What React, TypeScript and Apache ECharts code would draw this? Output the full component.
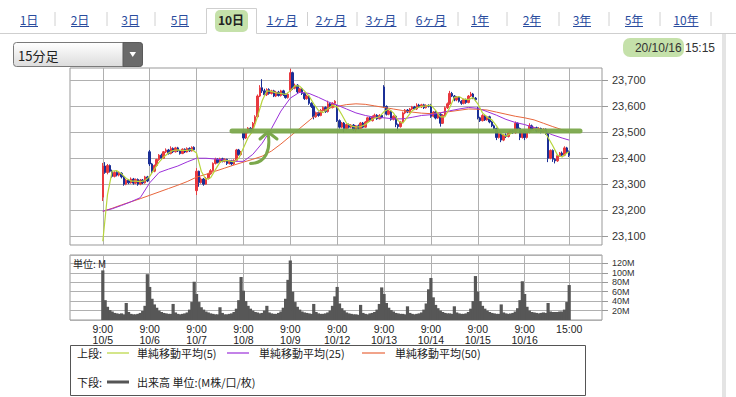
import React, { useEffect, useRef } from 'react';
import * as echarts from 'echarts';

// ---------- data ----------
const dayLabels = ['10/5', '10/6', '10/7', '10/8', '10/9', '10/12', '10/13', '10/14', '10/15', '10/16'];
const endLabel = '15:00';
const yTickValues = [23100, 23200, 23300, 23400, 23500, 23600, 23700];
const volTickValues = [20, 40, 60, 80, 100, 120];

// 15-minute candles per day: [open, close, low, high]
const c10_5 = [
  [23250, 23370, 23235, 23382], [23370, 23345, 23340, 23385], [23345, 23372, 23338, 23378], [23372, 23350, 23345, 23376],
  [23350, 23330, 23325, 23356], [23330, 23345, 23326, 23350], [23345, 23335, 23330, 23350], [23335, 23342, 23330, 23348],
  [23342, 23328, 23322, 23346], [23328, 23300, 23294, 23332], [23300, 23315, 23296, 23320], [23315, 23305, 23300, 23320],
  [23305, 23320, 23302, 23326], [23320, 23304, 23298, 23324], [23304, 23318, 23300, 23322], [23318, 23300, 23294, 23322],
  [23300, 23316, 23296, 23320], [23316, 23305, 23300, 23320], [23305, 23328, 23302, 23332], [23328, 23312, 23308, 23332],
];
const c10_6 = [
  [23425, 23378, 23370, 23432], [23378, 23350, 23340, 23382], [23350, 23372, 23346, 23376], [23372, 23395, 23368, 23398],
  [23395, 23412, 23390, 23416], [23412, 23400, 23396, 23418], [23400, 23425, 23398, 23428], [23425, 23432, 23420, 23438],
  [23432, 23418, 23414, 23436], [23418, 23438, 23415, 23446], [23438, 23425, 23420, 23442], [23425, 23440, 23422, 23444],
  [23440, 23428, 23424, 23444], [23428, 23418, 23414, 23432], [23418, 23435, 23416, 23438], [23435, 23424, 23420, 23438],
  [23424, 23438, 23422, 23442], [23438, 23428, 23424, 23442], [23428, 23442, 23426, 23446], [23442, 23433, 23428, 23446],
];
const c10_7 = [
  [23275, 23350, 23258, 23362], [23350, 23306, 23290, 23352], [23306, 23320, 23302, 23326], [23320, 23300, 23294, 23324],
  [23300, 23322, 23298, 23328], [23322, 23340, 23318, 23344], [23340, 23352, 23336, 23358], [23352, 23380, 23348, 23384],
  [23380, 23396, 23376, 23402], [23396, 23384, 23380, 23400], [23384, 23398, 23380, 23402], [23398, 23388, 23384, 23402],
  [23388, 23396, 23384, 23400], [23396, 23380, 23374, 23398], [23380, 23390, 23376, 23394], [23390, 23378, 23372, 23394],
  [23378, 23392, 23374, 23396], [23392, 23432, 23388, 23436], [23432, 23414, 23410, 23436], [23414, 23423, 23410, 23428],
];
const c10_8 = [
  [23500, 23478, 23470, 23506], [23478, 23500, 23474, 23504], [23500, 23516, 23496, 23520], [23516, 23504, 23500, 23520],
  [23504, 23535, 23500, 23540], [23535, 23560, 23530, 23566], [23560, 23640, 23556, 23646], [23640, 23672, 23636, 23682],
  [23672, 23660, 23652, 23705], [23660, 23645, 23640, 23668], [23645, 23665, 23640, 23670], [23665, 23650, 23645, 23670],
  [23650, 23660, 23646, 23664], [23660, 23640, 23636, 23664], [23640, 23655, 23636, 23660], [23655, 23642, 23638, 23660],
  [23642, 23660, 23638, 23664], [23660, 23645, 23640, 23664], [23645, 23634, 23630, 23650], [23634, 23647, 23630, 23652],
];
const c10_9 = [
  [23662, 23730, 23655, 23745], [23730, 23670, 23664, 23734], [23670, 23682, 23666, 23688], [23682, 23656, 23650, 23686],
  [23656, 23668, 23652, 23672], [23668, 23650, 23644, 23672], [23650, 23630, 23625, 23654], [23630, 23640, 23626, 23645],
  [23640, 23612, 23606, 23644], [23612, 23600, 23594, 23616], [23600, 23560, 23550, 23604], [23560, 23576, 23556, 23580],
  [23576, 23565, 23560, 23580], [23565, 23585, 23562, 23590], [23585, 23596, 23580, 23600], [23596, 23580, 23575, 23600],
  [23580, 23610, 23576, 23622], [23610, 23596, 23590, 23614], [23596, 23612, 23592, 23616], [23612, 23620, 23606, 23624],
];
const c10_12 = [
  [23600, 23545, 23540, 23606], [23545, 23520, 23514, 23550], [23520, 23536, 23516, 23540], [23536, 23514, 23500, 23540],
  [23514, 23530, 23510, 23534], [23530, 23520, 23515, 23534], [23520, 23528, 23516, 23532], [23528, 23510, 23505, 23532],
  [23510, 23525, 23500, 23528], [23525, 23515, 23510, 23530], [23515, 23536, 23512, 23540], [23536, 23520, 23516, 23540],
  [23520, 23540, 23518, 23544], [23540, 23556, 23536, 23560], [23556, 23545, 23540, 23560], [23545, 23560, 23542, 23565],
  [23560, 23566, 23556, 23572], [23566, 23552, 23548, 23570], [23552, 23565, 23550, 23570], [23565, 23558, 23554, 23568],
];
const c10_13 = [
  [23675, 23600, 23595, 23682], [23600, 23570, 23565, 23604], [23570, 23582, 23566, 23586], [23582, 23550, 23545, 23586],
  [23550, 23562, 23546, 23566], [23562, 23530, 23520, 23566], [23530, 23522, 23505, 23534], [23522, 23540, 23518, 23544],
  [23540, 23575, 23536, 23580], [23575, 23586, 23570, 23590], [23586, 23578, 23574, 23590], [23578, 23590, 23574, 23594],
  [23590, 23598, 23586, 23602], [23598, 23590, 23586, 23602], [23590, 23605, 23586, 23612], [23605, 23598, 23594, 23610],
  [23598, 23606, 23594, 23610], [23606, 23595, 23590, 23610], [23595, 23604, 23592, 23608], [23604, 23601, 23596, 23608],
];
const c10_14 = [
  [23602, 23562, 23556, 23610], [23562, 23578, 23558, 23582], [23578, 23555, 23550, 23582], [23555, 23570, 23552, 23574],
  [23570, 23535, 23522, 23574], [23535, 23566, 23532, 23570], [23566, 23595, 23562, 23600], [23595, 23610, 23590, 23615],
  [23610, 23650, 23606, 23660], [23650, 23640, 23636, 23656], [23640, 23625, 23620, 23644], [23625, 23636, 23620, 23640],
  [23636, 23620, 23615, 23640], [23620, 23612, 23606, 23624], [23612, 23626, 23608, 23630], [23626, 23615, 23610, 23630],
  [23615, 23640, 23612, 23644], [23640, 23648, 23636, 23656], [23648, 23632, 23628, 23652], [23632, 23626, 23620, 23636],
];
const c10_15 = [
  [23590, 23556, 23550, 23598], [23556, 23545, 23540, 23560], [23545, 23565, 23542, 23570], [23565, 23548, 23544, 23568],
  [23548, 23560, 23545, 23564], [23560, 23540, 23535, 23564], [23540, 23525, 23520, 23544], [23525, 23515, 23510, 23530],
  [23515, 23480, 23470, 23518], [23480, 23495, 23476, 23500], [23495, 23470, 23462, 23498], [23470, 23490, 23466, 23494],
  [23490, 23484, 23478, 23496], [23484, 23500, 23480, 23504], [23500, 23506, 23496, 23510], [23506, 23498, 23494, 23510],
  [23498, 23535, 23495, 23542], [23535, 23515, 23510, 23538], [23515, 23480, 23470, 23518], [23480, 23507, 23476, 23510],
];
const c10_16 = [
  [23505, 23480, 23470, 23510], [23480, 23500, 23476, 23504], [23500, 23525, 23496, 23535], [23525, 23510, 23505, 23530],
  [23510, 23518, 23506, 23522], [23518, 23505, 23500, 23522], [23505, 23515, 23502, 23520], [23515, 23500, 23496, 23518],
  [23500, 23512, 23497, 23516], [23512, 23495, 23490, 23515], [23495, 23400, 23385, 23498], [23400, 23430, 23396, 23434],
  [23430, 23396, 23386, 23434], [23396, 23390, 23380, 23400], [23390, 23410, 23386, 23414], [23410, 23420, 23406, 23424],
  [23420, 23412, 23408, 23426], [23412, 23440, 23408, 23446], [23440, 23425, 23420, 23444], [23425, 23411, 23405, 23430],
];

// volume (M) per 15-minute bar
const v10_5 = [105, 42, 28, 21, 18, 15, 14, 13, 14, 12, 36, 17, 13, 12, 12, 13, 15, 19, 30, 97];
const v10_6 = [70, 45, 33, 26, 20, 17, 15, 14, 13, 13, 34, 16, 13, 12, 13, 14, 16, 22, 38, 81];
const v10_7 = [55, 38, 27, 22, 18, 16, 14, 13, 12, 12, 27, 15, 12, 12, 13, 14, 17, 24, 42, 91];
const v10_8 = [62, 40, 30, 24, 20, 17, 16, 14, 15, 20, 30, 16, 14, 13, 13, 15, 18, 26, 45, 85];
const v10_9 = [126, 60, 38, 28, 22, 18, 16, 15, 14, 13, 34, 17, 14, 13, 13, 14, 16, 20, 30, 50];
const v10_12 = [70, 35, 25, 20, 16, 14, 13, 12, 12, 11, 32, 15, 13, 12, 14, 15, 17, 22, 34, 69];
const v10_13 = [55, 36, 26, 21, 18, 15, 14, 13, 13, 12, 29, 15, 13, 12, 13, 14, 16, 22, 35, 65];
const v10_14 = [89, 48, 32, 25, 20, 17, 15, 14, 14, 13, 29, 16, 14, 13, 13, 14, 17, 24, 40, 93];
const v10_15 = [60, 40, 30, 24, 20, 17, 15, 14, 13, 13, 33, 16, 14, 13, 14, 15, 18, 25, 42, 82];
const v10_16 = [55, 28, 20, 17, 16, 15, 14, 15, 16, 15, 36, 18, 17, 17, 17, 18, 18, 22, 38, 74];

// moving averages
// MA5 at bars 0,2,4,...,18 of each day
const ma5_10_5 = [23080, 23260, 23350, 23352, 23340, 23322, 23312, 23312, 23310, 23314];
const ma5_10_6 = [23330, 23358, 23385, 23405, 23420, 23430, 23432, 23430, 23430, 23434];
const ma5_10_7 = [23420, 23350, 23318, 23325, 23355, 23385, 23392, 23390, 23386, 23400];
const ma5_10_8 = [23440, 23480, 23505, 23560, 23622, 23660, 23658, 23652, 23650, 23646];
const ma5_10_9 = [23660, 23680, 23678, 23660, 23640, 23610, 23585, 23576, 23590, 23605];
const ma5_10_12 = [23598, 23568, 23535, 23525, 23520, 23522, 23530, 23545, 23555, 23560];
const ma5_10_13 = [23580, 23590, 23575, 23545, 23535, 23560, 23583, 23595, 23600, 23602];
const ma5_10_14 = [23605, 23585, 23560, 23560, 23595, 23635, 23638, 23628, 23626, 23634];
const ma5_10_15 = [23610, 23575, 23558, 23548, 23525, 23495, 23485, 23495, 23505, 23510];
const ma5_10_16 = [23500, 23500, 23512, 23512, 23508, 23480, 23448, 23412, 23405, 23420];
const ma5Last = 23425;
// MA25 at bars 0,4,8,12,16 of each day
const ma25_10_5 = [23196, 23205, 23218, 23232, 23248];
const ma25_10_6 = [23305, 23345, 23358, 23370, 23386];
const ma25_10_7 = [23400, 23400, 23397, 23393, 23388];
const ma25_10_8 = [23388, 23415, 23458, 23515, 23582];
const ma25_10_9 = [23632, 23655, 23650, 23635, 23618];
const ma25_10_12 = [23605, 23590, 23575, 23565, 23558];
const ma25_10_13 = [23556, 23552, 23552, 23558, 23565];
const ma25_10_14 = [23568, 23575, 23583, 23590, 23596];
const ma25_10_15 = [23593, 23580, 23566, 23550, 23538];
const ma25_10_16 = [23530, 23518, 23505, 23490, 23478];
const ma25Last = 23470;
// MA50 at bars 0,4,8,12,16 of each day
const ma50_10_5 = [23195, 23207, 23220, 23232, 23244];
const ma50_10_6 = [23257, 23270, 23283, 23296, 23310];
const ma50_10_7 = [23327, 23338, 23350, 23362, 23374];
const ma50_10_8 = [23385, 23396, 23408, 23428, 23455];
const ma50_10_9 = [23485, 23515, 23545, 23575, 23592];
const ma50_10_12 = [23600, 23607, 23610, 23608, 23602];
const ma50_10_13 = [23596, 23590, 23584, 23578, 23574];
const ma50_10_14 = [23572, 23576, 23580, 23585, 23590];
const ma50_10_15 = [23589, 23586, 23578, 23570, 23562];
const ma50_10_16 = [23556, 23548, 23535, 23522, 23510];
const ma50Last = 23502;

const candleDays = [c10_5, c10_6, c10_7, c10_8, c10_9, c10_12, c10_13, c10_14, c10_15, c10_16];
const volDays = [v10_5, v10_6, v10_7, v10_8, v10_9, v10_12, v10_13, v10_14, v10_15, v10_16];
const ma5Days = [ma5_10_5, ma5_10_6, ma5_10_7, ma5_10_8, ma5_10_9, ma5_10_12, ma5_10_13, ma5_10_14, ma5_10_15, ma5_10_16];
const ma25Days = [ma25_10_5, ma25_10_6, ma25_10_7, ma25_10_8, ma25_10_9, ma25_10_12, ma25_10_13, ma25_10_14, ma25_10_15, ma25_10_16];
const ma50Days = [ma50_10_5, ma50_10_6, ma50_10_7, ma50_10_8, ma50_10_9, ma50_10_12, ma50_10_13, ma50_10_14, ma50_10_15, ma50_10_16];

// ---------- layout of the slot axis ----------
const LEAD = 14;
const BARS = 20;
const TOTAL = 228;

const cats: string[] = [];
for (let i = 0; i < TOTAL; i++) cats.push('s' + i);
const labelMap: Record<string, string> = {};
dayLabels.forEach((d, k) => { labelMap['s' + (LEAD + k * BARS)] = '9:00\n' + d; });
const lastIdx = LEAD + dayLabels.length * BARS - 1;
labelMap['s' + lastIdx] = endLabel;
const gridIdx = new Set<number>();
Object.keys(labelMap).forEach((k) => gridIdx.add(parseInt(k.slice(1), 10)));

const candleData: any[] = [];
const volData: any[] = [];
const ma5Data: any[] = [];
const ma25Data: any[] = [];
const ma50Data: any[] = [];
for (let i = 0; i < TOTAL; i++) {
  candleData.push(['-', '-', '-', '-']);
  volData.push('-');
  ma5Data.push(null);
  ma25Data.push(null);
  ma50Data.push(null);
}
candleDays.forEach((day, d) => day.forEach((c, b) => { candleData[LEAD + d * BARS + b] = c; }));
volDays.forEach((day, d) => day.forEach((v, b) => { volData[LEAD + d * BARS + b] = v; }));
ma5Days.forEach((day, d) => day.forEach((v, k) => { ma5Data[LEAD + d * BARS + k * 2] = v; }));
ma25Days.forEach((day, d) => day.forEach((v, k) => { ma25Data[LEAD + d * BARS + k * 4] = v; }));
ma50Days.forEach((day, d) => day.forEach((v, k) => { ma50Data[LEAD + d * BARS + k * 4] = v; }));
ma5Data[lastIdx] = ma5Last;
ma25Data[lastIdx] = ma25Last;
ma50Data[lastIdx] = ma50Last;

// ---------- header / annotations ----------
const tabs = ['1日', '2日', '3日', '5日', '10日', '1ヶ月', '2ヶ月', '3ヶ月', '6ヶ月', '1年', '2年', '3年', '5年', '10年'];
const selectedTab = '10日';
const legendItems = ['単純移動平均(5)', '単純移動平均(25)', '単純移動平均(50)'];

const C_MA5 = '#b8d53c';
const C_MA25 = '#9b30d9';
const C_MA50 = '#e8663c';
const C_UP = '#e8393f';
const C_DOWN = '#1b2f96';
const C_GRID = '#b0b0b0';
const C_HL = '#7ba84c';
const JP = '"Noto Sans CJK JP", "Noto Sans", sans-serif';
const NUM = '"Liberation Sans", Arial, sans-serif';

function textEl(text: string, x: number, y: number, opts: any = {}) {
  return {
    type: 'text',
    z: opts.z ?? 100,
    style: {
      text, x, y,
      fill: opts.fill ?? '#333',
      font: opts.font ?? `12px ${JP}`,
      textAlign: opts.align ?? 'left',
      textVerticalAlign: 'middle',
      align: opts.align ?? 'left',
      verticalAlign: 'middle',
    },
  };
}
function lineEl(x1: number, y1: number, x2: number, y2: number, stroke: string, lineWidth = 1, z = 90) {
  return { type: 'line', z, shape: { x1, y1, x2, y2 }, style: { stroke, lineWidth } };
}

function buildGraphic() {
  const g: any[] = [];
  const tabX = [29, 80, 130.5, 180, 231, 282, 331, 381, 431, 480, 532, 582, 634, 686];
  const tabW = [18, 18, 18, 18, 25, 31, 31, 31, 31, 18, 18, 18, 18, 25];
  const seps = [55, 107, 155, 307.5, 357, 406, 458, 507, 559, 609, 660, 711];
  g.push(lineEl(0, 33.5, 206.5, 33.5, '#cfcfcf'));
  g.push(lineEl(256.5, 33.5, 736, 33.5, '#cfcfcf'));
  g.push({ type: 'polyline', z: 90, shape: { points: [[206.5, 33.5], [206.5, 8.5], [256.5, 8.5], [256.5, 33.5]] }, style: { stroke: '#cfcfcf', fill: null, lineWidth: 1 } });
  g.push({ type: 'rect', z: 91, shape: { x: 215, y: 10, width: 33, height: 22, r: 5 }, style: { fill: 'rgba(150,200,100,0.55)' } });
  seps.forEach((x) => g.push(lineEl(x, 12, x, 26, '#d0d0d0')));
  tabs.forEach((t, i) => {
    const sel = t === selectedTab;
    g.push(textEl(t, tabX[i], 19, { align: 'center', fill: sel ? '#222' : '#2a4c9e', font: `${sel ? 'bold ' : ''}12px ${JP}` }));
    if (!sel) g.push(lineEl(tabX[i] - tabW[i] / 2, 26.5, tabX[i] + tabW[i] / 2, 26.5, '#2a4c9e'));
  });
  g.push({ type: 'rect', z: 80, shape: { x: 722, y: 34, width: 4, height: 363 }, style: { fill: '#e4e4e4' } });
  g.push({
    type: 'rect', z: 90, shape: { x: 13.5, y: 42.5, width: 129, height: 24, r: 3 },
    style: { fill: new echarts.graphic.LinearGradient(0, 0, 0, 1, [{ offset: 0, color: '#ffffff' }, { offset: 1, color: '#dcdcdc' }]), stroke: '#7a7a7a', lineWidth: 1 },
  });
  g.push({ type: 'rect', z: 91, shape: { x: 123, y: 42.5, width: 19.5, height: 24, r: [0, 3, 3, 0] }, style: { fill: '#6a6a6a', stroke: '#5a5a5a' } });
  g.push({ type: 'polygon', z: 92, shape: { points: [[129.5, 52], [136, 52], [132.75, 57]] }, style: { fill: '#ffffff' } });
  g.push(textEl('15分足', 18, 55, { font: `13px ${JP}`, fill: '#222' }));
  g.push({ type: 'rect', z: 89, shape: { x: 623, y: 38, width: 61, height: 19, r: 7 }, style: { fill: 'rgba(150,200,100,0.55)' } });
  g.push(textEl('20/10/16 15:15', 715, 47.5, { align: 'right', font: `12px ${NUM}`, fill: '#333' }));
  g.push(textEl('単位: M', 73, 263, { font: `10px ${JP}`, fill: '#222' }));
  g.push({ type: 'line', z: 95, shape: { x1: 232, y1: 131, x2: 580, y2: 131 }, style: { stroke: C_HL, lineWidth: 5, lineCap: 'round', opacity: 0.95 } });
  g.push({ type: 'bezierCurve', z: 95, shape: { x1: 250.5, y1: 163.5, cpx1: 266, cpy1: 163, cpx2: 271, cpy2: 150, x2: 268, y2: 133 }, style: { stroke: C_HL, lineWidth: 3, fill: null, lineCap: 'round' } });
  g.push({ type: 'polyline', z: 95, shape: { points: [[260, 139], [268, 132], [277, 139]] }, style: { stroke: C_HL, lineWidth: 3, fill: null, lineCap: 'round', lineJoin: 'round' } });
  g.push({ type: 'rect', z: 80, shape: { x: 70.5, y: 345.5, width: 515, height: 50 }, style: { fill: '#fff', stroke: '#555', lineWidth: 1 } });
  g.push(textEl('上段:', 77, 353, { font: `11px ${JP}`, fill: '#222' }));
  g.push(lineEl(107, 353, 129, 353, C_MA5, 1.2));
  g.push(textEl(legendItems[0], 137, 353, { font: `11px ${JP}`, fill: '#222' }));
  g.push(lineEl(227, 353, 249, 353, C_MA25, 1.2));
  g.push(textEl(legendItems[1], 259, 353, { font: `11px ${JP}`, fill: '#222' }));
  g.push(lineEl(362, 353, 385, 353, C_MA50, 1.2));
  g.push(textEl(legendItems[2], 395, 353, { font: `11px ${JP}`, fill: '#222' }));
  g.push(textEl('下段:', 77, 382, { font: `11px ${JP}`, fill: '#222' }));
  g.push(lineEl(107, 382, 129, 382, '#555', 3));
  g.push(textEl('出来高 単位:(M株/口/枚)', 137, 382, { font: `11px ${JP}`, fill: '#222' }));
  return g;
}

export default function App() {
  const ref = useRef<HTMLDivElement>(null);
  useEffect(() => {
    if (!ref.current) return;
    const chart = echarts.init(ref.current, undefined, { renderer: 'svg' });
    const splitInterval = (i: number) => gridIdx.has(i);
    const option: any = {
      animation: false,
      backgroundColor: '#ffffff',
      grid: [
        { left: 70, top: 68, width: 532, height: 177, show: true, borderColor: '#999', borderWidth: 1, backgroundColor: 'transparent' },
        { left: 70, top: 255, width: 532, height: 65, show: true, borderColor: '#999', borderWidth: 1, backgroundColor: 'transparent' },
      ],
      xAxis: [
        {
          type: 'category', gridIndex: 0, data: cats, boundaryGap: false,
          axisLine: { show: false }, axisTick: { show: false }, axisLabel: { show: false },
          splitLine: { show: true, interval: splitInterval, lineStyle: { color: C_GRID, width: 1 } },
        },
        {
          type: 'category', gridIndex: 1, data: cats, boundaryGap: false,
          axisLine: { show: false }, axisTick: { show: false },
          axisLabel: {
            show: true, interval: splitInterval, margin: 3,
            formatter: (v: string) => labelMap[v] || '',
            color: '#222', fontFamily: NUM, fontSize: 10.5, lineHeight: 11.5,
          },
          splitLine: { show: true, interval: splitInterval, lineStyle: { color: C_GRID, width: 1 } },
        },
      ],
      yAxis: [
        {
          type: 'value', gridIndex: 0, position: 'right', min: 23065.3, max: 23748.2,
          axisLine: { show: false },
          axisTick: { show: true, length: 6, lineStyle: { color: '#999' }, customValues: yTickValues },
          axisLabel: {
            margin: 10, color: '#333', fontFamily: NUM, fontSize: 11, customValues: yTickValues,
            formatter: (v: number) => v.toLocaleString('en-US'),
          },
          splitLine: { show: true, lineStyle: { color: C_GRID, width: 1 } },
        },
        {
          type: 'value', gridIndex: 1, position: 'right', min: 0, max: 137.6, interval: 20,
          axisLine: { show: false },
          axisTick: { show: true, length: 6, lineStyle: { color: '#999' } },
          axisLabel: {
            margin: 10, color: '#333', fontFamily: NUM, fontSize: 9, lineHeight: 9, showMinLabel: false, showMaxLabel: false,
            formatter: (v: number) => (volTickValues.indexOf(v) >= 0 ? v + 'M' : ''),
          },
          splitLine: { show: true, lineStyle: { color: C_GRID, width: 1 } },
        },
      ],
      series: [
        {
          type: 'candlestick', xAxisIndex: 0, yAxisIndex: 0, data: candleData, barWidth: 2,
          itemStyle: { color: C_UP, color0: C_DOWN, borderColor: C_UP, borderColor0: C_DOWN, borderWidth: 1 },
          z: 3,
        },
        { type: 'line', xAxisIndex: 0, yAxisIndex: 0, data: ma50Data, connectNulls: true, showSymbol: false, symbol: 'none', lineStyle: { color: C_MA50, width: 1 }, z: 4 },
        { type: 'line', xAxisIndex: 0, yAxisIndex: 0, data: ma25Data, connectNulls: true, showSymbol: false, symbol: 'none', lineStyle: { color: C_MA25, width: 1 }, z: 4 },
        { type: 'line', xAxisIndex: 0, yAxisIndex: 0, data: ma5Data, connectNulls: true, showSymbol: false, symbol: 'none', lineStyle: { color: C_MA5, width: 1.2 }, z: 5 },
        {
          type: 'bar', xAxisIndex: 1, yAxisIndex: 1, data: volData, barWidth: 3.2,
          itemStyle: { color: '#575757' }, z: 3,
        },
      ],
      graphic: buildGraphic(),
    };
    chart.setOption(option);
    return () => chart.dispose();
  }, []);
  return (
    <div style={{ position: 'fixed', left: 0, top: 0, width: 736, height: 397, background: '#fff' }}>
      <div ref={ref} style={{ width: 736, height: 397 }} />
    </div>
  );
}
